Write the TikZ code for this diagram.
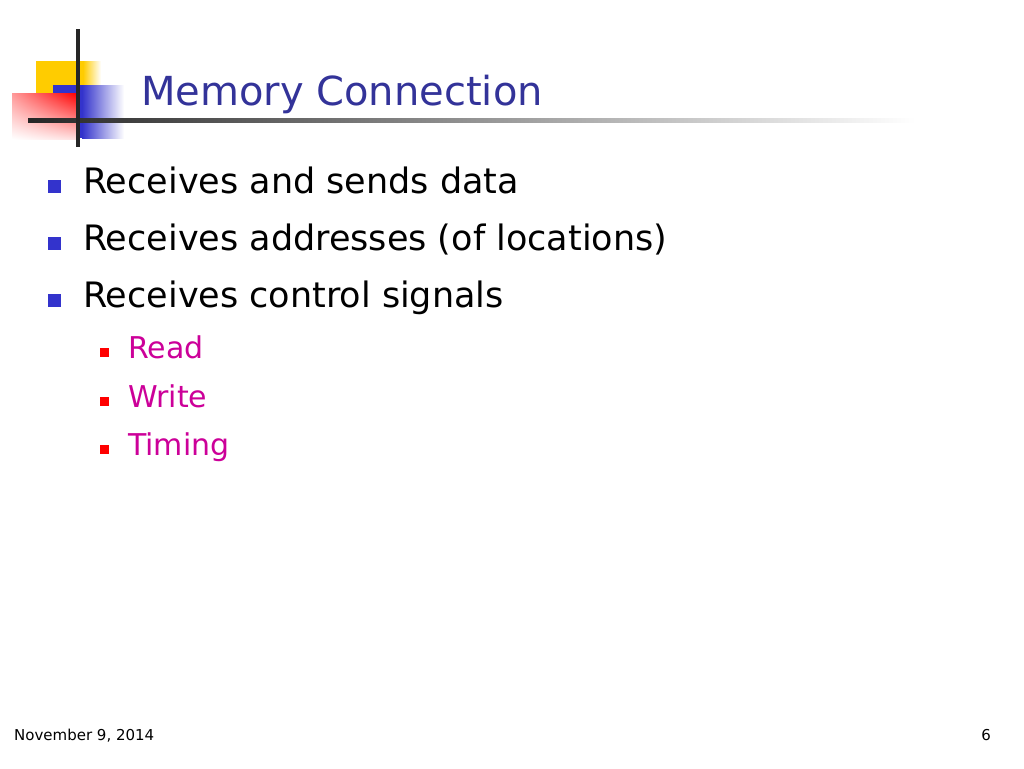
\documentclass[tikz,border=0pt]{standalone}
\usepackage{fontspec}
\setmainfont{DejaVu Sans}
\usetikzlibrary{shadings}
\definecolor{titleblue}{HTML}{333399}
\definecolor{bulletblue}{HTML}{3333CC}
\definecolor{subpink}{HTML}{CC0099}
\definecolor{decoyellow}{HTML}{FFCC00}
\begin{document}
\begin{tikzpicture}[line cap=butt,line join=round,x=1pt,y=-1pt,
	bodytext/.style={anchor=base west,inner sep=0pt,font=\fontsize{35}{40}\selectfont},
	subtext/.style={anchor=base west,inner sep=0pt,text=subpink,font=\fontsize{30}{34}\selectfont},
	foottext/.style={anchor=base west,inner sep=0pt,font=\fontsize{15}{18}\selectfont}]
		\useasboundingbox[fill=white] (0,0) rectangle (1024,768);
		% title decoration
		\fill [decoyellow] (36,61) rectangle (83,120);
		\shade [left color=decoyellow,right color=white] (83,61) rectangle (101,120);
		\fill [bulletblue] (53,85) rectangle (82,138);
		\shade [left color=bulletblue,right color=white] (82,85) rectangle (124,138);
		\shade [upper left=red!40,upper right=red,lower left=white,lower right=red!12] (12,93) rectangle (77,139);
		\shade [left color=black!85,right color=white] (28,118) rectangle (915,122);
		\fill [black!85] (76,29) rectangle (80,147);
		% title
		\node [anchor=base west,inner sep=0pt,text=titleblue,font=\fontsize{40}{46}\selectfont] (title) at (141,105) {Memory Connection};
		% bullets
		\foreach \y/\txt/\nm in {193/Receives and sends data/data,250/Receives addresses (of locations)/addr,307/Receives control signals/ctrl}
		{
			\fill [bulletblue] (48,\y-13) rectangle ++(13,13);
			\node [bodytext] (\nm) at (83,\y) {\txt};
		}
		\foreach \y/\txt in {358/Read,407/Write,455/Timing}
		{
			\fill [red] (100,\y-10) rectangle ++(9,9);
			\node [subtext] (\txt) at (128,\y) {\txt};
		}
		% footer
		\node [foottext] (date) at (14,740) {November 9, 2014};
		\node [foottext,anchor=base east] (page) at (991,740) {6};
	\end{tikzpicture}
\end{document}
